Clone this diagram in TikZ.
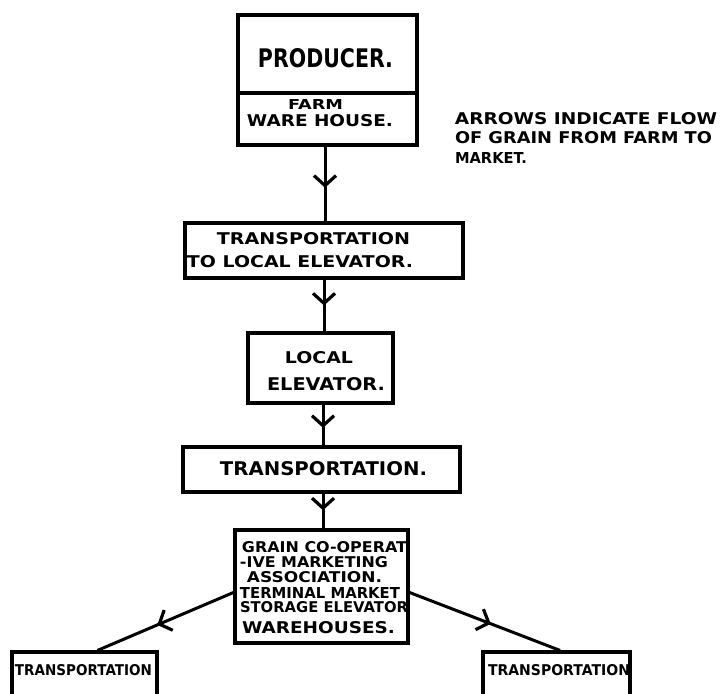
\documentclass[tikz,border=0pt]{standalone}
\usepackage{fontspec}
\usepackage{graphicx}
\newfontfamily\handfont{DejaVu Sans}
\usetikzlibrary{arrows.meta,decorations.markings,calc}
\newcommand\hw[3]{\resizebox{#1pt}{#2pt}{#3}}
\tikzset{
  box/.style={draw=black, line width=3.2pt, inner sep=0pt, fill=none},
  lbl/.style={inner sep=0pt, font=\handfont\bfseries, text=black},
  flow/.style={line width=3pt, postaction={decorate},
    decoration={markings, mark=at position #1 with {\arrow{Straight Barb[length=10pt,width=22pt,line width=3.2pt]}}}},
  flow/.default=0.55
}
\begin{document}
\begin{tikzpicture}[x=1pt,y=-1pt]
\useasboundingbox (0,0) rectangle (722,693);
\fill[white] (0,0) rectangle (722,693);
\clip (0,0) rectangle (722,693);
% boxes
\node[box, minimum width=179pt, minimum height=78pt] (prod) at (327.5,54) {};
\node[box, minimum width=179pt, minimum height=52pt] (farm) at (327.5,119) {};
\node[box, minimum width=278pt, minimum height=55pt] (t1) at (324,250.5) {};
\node[box, minimum width=145pt, minimum height=70pt] (loc) at (320.5,368) {};
\node[box, minimum width=277pt, minimum height=45pt] (t2) at (321.5,469.5) {};
\node[box, minimum width=173pt, minimum height=113pt] (grain) at (321.5,586.5) {};
\node[box, minimum width=145pt, minimum height=58pt] (lt) at (84.5,681) {};
\node[box, minimum width=147pt, minimum height=58pt] (rt) at (556.5,681) {};
% texts
\node[lbl] (tprod) at (325.5,58) {\hw{135}{19}{PRODUCER.}};
\node[lbl] (tfarm) at (315.5,104) {\hw{55}{10}{FARM}};
\node[lbl] (twh) at (320,121) {\hw{146}{12}{WARE HOUSE.}};
\node[lbl] (tt1a) at (313.5,238.5) {\hw{193}{12}{TRANSPORTATION}};
\node[lbl] (tt1b) at (300,261.5) {\hw{226}{12}{TO LOCAL ELEVATOR.}};
\node[lbl] (tloca) at (319,358) {\hw{68}{12}{LOCAL}};
\node[lbl] (tlocb) at (326,384) {\hw{118}{13}{ELEVATOR.}};
\node[lbl] (tt2) at (323.5,468.5) {\hw{207}{14}{TRANSPORTATION.}};
\node[lbl] (tg1) at (324.5,547) {\hw{165}{11}{GRAIN CO-OPERAT}};
\node[lbl] (tg2) at (314,562) {\hw{148}{11}{-IVE MARKETING}};
\node[lbl] (tg3) at (314.5,577) {\hw{135}{11}{ASSOCIATION.}};
\node[lbl] (tg4) at (320,593) {\hw{160}{11}{TERMINAL MARKET}};
\node[lbl] (tg5) at (324,607.5) {\hw{168}{11}{STORAGE ELEVATOR}};
\node[lbl] (tg6) at (318.5,627.5) {\hw{153}{12}{WAREHOUSES.}};
\node[lbl] (tlt) at (83.5,670) {\hw{137}{11}{TRANSPORTATION}};
\node[lbl] (trt) at (559,670) {\hw{142}{11}{TRANSPORTATION}};
% note
\node[lbl] (n1) at (586,119) {\hw{262}{12}{ARROWS INDICATE FLOW}};
\node[lbl] (n2) at (583.5,137.5) {\hw{257}{12}{OF GRAIN FROM FARM TO}};
\node[lbl] (n3) at (491,158) {\hw{72}{11}{MARKET.}};
% connectors
\draw[flow=0.55] (farm.south -| 325,0) -- (t1.north -| 325,0);
\draw[flow=0.5] (t1.south -| 324,0) -- (loc.north -| 324,0);
\draw[flow=0.57] (loc.south -| 323,0) -- (t2.north -| 323,0);
\draw[flow=0.48] (t2.south -| 323,0) -- (grain.north -| 323,0);
\draw[flow=0.56] ($(grain.west)+(0,6)$) -- ($(lt.north)+(13,0)$);
\draw[flow=0.54] ($(grain.east)+(0,6)$) -- ($(rt.north)+(3.5,0)$);
\end{tikzpicture}
\end{document}
